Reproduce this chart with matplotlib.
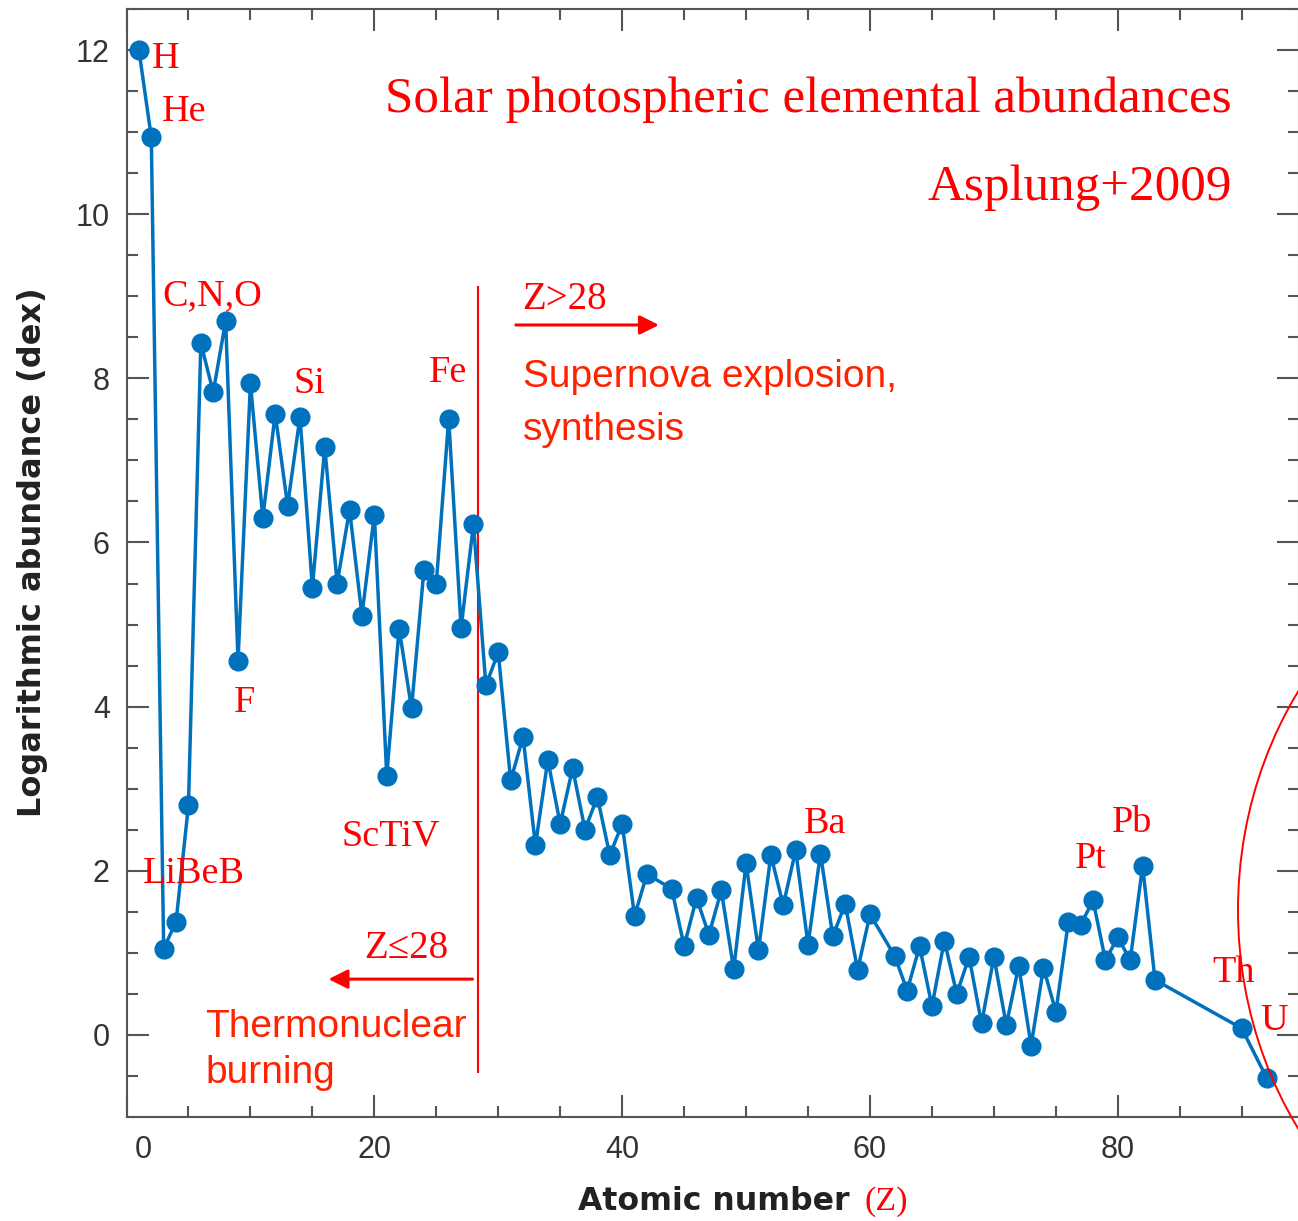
import matplotlib
matplotlib.use('Agg')
import matplotlib.pyplot as plt
from matplotlib.patches import Ellipse
from matplotlib.ticker import MultipleLocator, FixedFormatter, FixedLocator

# atomic number (Tc, Pm, 84-89 and Pa are not in the plot)
Z = list(range(1, 43)) + list(range(44, 61)) + list(range(62, 84)) + [90, 92]

# log abundance (Asplund+2009)
abund = [12.00, 10.94, 1.05, 1.38, 2.80, 8.43, 7.83, 8.70, 4.56, 7.94,   # H - Ne
         6.30, 7.57, 6.45, 7.53, 5.45, 7.16, 5.50, 6.40, 5.11, 6.34,     # Na - Ca
         3.16, 4.95, 3.98, 5.66, 5.50, 7.51, 4.96, 6.22, 4.26, 4.66,     # Sc - Zn
         3.10, 3.63, 2.31, 3.35, 2.57, 3.25, 2.50, 2.90, 2.19, 2.57,     # Ga - Zr
         1.45, 1.96,                                                     # Nb, Mo
         1.78, 1.08, 1.67, 1.22, 1.76, 0.80, 2.09, 1.03, 2.19, 1.58,     # Ru - I
         2.25, 1.10, 2.21, 1.20, 1.60, 0.79, 1.47,                       # Xe - Nd
         0.96, 0.54, 1.08, 0.35, 1.15, 0.50, 0.95, 0.14, 0.95, 0.12,     # Sm - Lu
         0.84, -0.13, 0.82, 0.28, 1.37, 1.34, 1.64, 0.91, 1.19, 0.91,    # Hf - Tl
         2.06, 0.67,                                                     # Pb, Bi
         0.08, -0.52]                                                    # Th, U

# x tick labels (the "0" is drawn separately, a bit right of its tick)
xticks = [0, 20, 40, 60, 80]
xticklabels = ['', '20', '40', '60', '80']

# element labels (text, x, y of baseline)
elem_labels = ['H', 'He', 'C,N,O', 'Si', 'Fe', 'F', 'LiBeB', 'ScTiV',
               'Ba', 'Pt', 'Pb', 'Th', 'U']
elem_x = [2.07, 2.87, 2.87, 13.47, 24.38, 8.63, 1.29, 17.34,
          54.69, 76.55, 79.53, 87.59, 91.47]
elem_y = [11.78, 11.13, 8.89, 7.82, 7.96, 3.94, 1.85, 2.31,
          2.46, 2.03, 2.47, 0.646, 0.06]

RED = '#ff0000'
RED2 = '#ff2200'
BLUE = '#0072bd'
GREY = '#555555'
SERIF = ['Liberation Serif', 'DejaVu Serif']

plt.rcParams['font.family'] = ['Liberation Sans', 'DejaVu Sans']

W, H = 1298, 1221
fig = plt.figure(figsize=(W / 100, H / 100), dpi=100)
ax = fig.add_axes([126.5 / W, 104 / H, (1299 - 126.5) / W, (1212 - 104) / H])

ax.plot(Z, abund, '-o', color=BLUE, lw=2.5, ms=13.5, zorder=3)

ax.set_xlim(0, 94.62)
ax.set_ylim(-1.0, 12.5)

# ticks on all four sides, pointing in
ax.xaxis.set_major_locator(FixedLocator(xticks))
ax.xaxis.set_major_formatter(FixedFormatter(xticklabels))
ax.xaxis.set_minor_locator(MultipleLocator(5))
ax.yaxis.set_major_locator(MultipleLocator(2))
ax.yaxis.set_minor_locator(MultipleLocator(0.5))
ax.tick_params(which='both', direction='in', top=True, right=True,
               color=GREY, width=1.5, labelcolor='#333333', labelsize=22)
ax.tick_params(which='major', length=16)
ax.tick_params(which='minor', length=8)
ax.tick_params(axis='x', pad=13)
ax.tick_params(axis='y', pad=12)
for s in ax.spines.values():
    s.set_color(GREY)
    s.set_linewidth(1.5)
fig.text(143 / W, (H - 1135) / H, '0', ha='center', va='top',
         fontsize=22, color='#333333')

# axis labels
fig.text(33 / W, (H - 552) / H, 'Logarithmic abundance (dex)', rotation=90,
         ha='center', va='center', fontsize=23, fontweight='bold',
         family='DejaVu Sans', color='#222222')
fig.text(578 / W, (H - 1210) / H, 'Atomic number', ha='left', va='baseline',
         fontsize=22.7, fontweight='bold', family='DejaVu Sans', color='#222222')
fig.text(865 / W, (H - 1210) / H, '(Z)', ha='left', va='baseline',
         fontsize=24.5, family=SERIF, color=RED)

# element names
for lab, x, y in zip(elem_labels, elem_x, elem_y):
    ax.text(x, y, lab, family=SERIF, fontsize=27.5, color=RED,
            ha='left', va='baseline')

# title
ax.text(89.22, 11.245, 'Solar photospheric elemental abundances', family=SERIF,
        fontsize=36.8, color=RED, ha='right', va='baseline')
ax.text(89.22, 10.17, 'Asplung+2009', family=SERIF, fontsize=36.8, color=RED,
        ha='right', va='baseline')

# Z = 28 divider and arrows
ax.vlines(28.33, -0.46, 9.125, color=RED, lw=1.5)
arrow = dict(arrowstyle='-|>', color=RED, lw=2.2, mutation_scale=29,
             shrinkA=0, shrinkB=0)
ax.annotate('', xy=(16.3, 0.68), xytext=(27.92, 0.68), arrowprops=arrow)
ax.annotate('', xy=(42.97, 8.65), xytext=(31.42, 8.65), arrowprops=arrow)

ax.text(19.19, 0.934, 'Z\u226428', family=SERIF, fontsize=28, color=RED,
        ha='left', va='baseline')
ax.text(31.91, 8.85, 'Z>28', family=SERIF, fontsize=28, color=RED,
        ha='left', va='baseline')

# two-line notes, one text per line
for txt, y in [('Supernova explosion,', 7.90), ('synthesis', 7.25)]:
    ax.text(32.02, y, txt, fontsize=28, color=RED2, ha='left', va='baseline')
for txt, y in [('Thermonuclear', -0.02), ('burning', -0.59)]:
    ax.text(6.37, y, txt, fontsize=28, color=RED2, ha='left', va='baseline')

# hand-drawn circle round Th and U
ell = Ellipse((15.88, 3.11), 7.0, 7.8, transform=fig.dpi_scale_trans,
              fill=False, ec=RED, lw=1.4)
fig.add_artist(ell)

fig.savefig('out.png', dpi=100)
